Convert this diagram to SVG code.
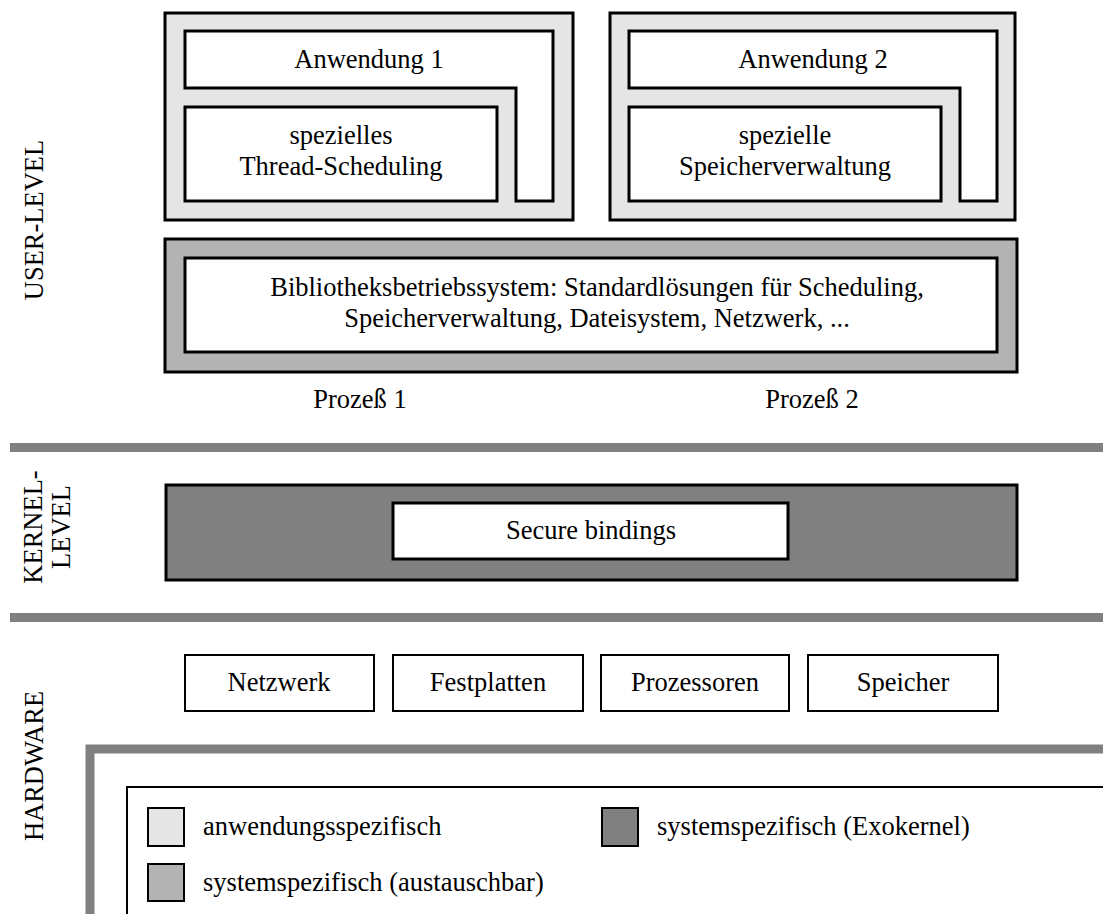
<svg xmlns="http://www.w3.org/2000/svg" width="1103" height="914" viewBox="0 0 1103 914">
  <style>
    text { font-family: "Liberation Serif", "Times New Roman", serif; font-size: 26.5px; fill: #000; }
    .c { text-anchor: middle; }
    .box { stroke: #000; stroke-width: 3; }
    .thin { stroke: #000; stroke-width: 2; }
    .app { fill: #e5e5e5; }
    .lib { fill: #b3b3b3; }
    .exo { fill: #808080; }
    .white { fill: #fff; }
    .bar { fill: #808080; }
  </style>

  <!-- level labels -->
  <g id="labels">
    <text class="c" transform="translate(43,220) rotate(-90)">USER-LEVEL</text>
    <text class="c" transform="translate(42,527) rotate(-90)">KERNEL-</text>
    <text class="c" transform="translate(70,527) rotate(-90)">LEVEL</text>
    <text class="c" transform="translate(43,766) rotate(-90)">HARDWARE</text>
  </g>

  <!-- level separators -->
  <g id="separators">
    <rect class="bar" x="10" y="443" width="1093" height="9"/>
    <rect class="bar" x="10" y="613" width="1093" height="9"/>
  </g>

  <!-- process 1 -->
  <g id="process1">
    <rect class="box app" x="165" y="13" width="408" height="207"/>
    <path class="box white" d="M185,31 H553 V201 H516 V88 H185 Z"/>
    <text class="c" x="369" y="68">Anwendung 1</text>
    <rect class="box white" x="185" y="107" width="312" height="94"/>
    <text class="c" x="341" y="144">spezielles</text>
    <text class="c" x="341" y="175">Thread-Scheduling</text>
  </g>

  <!-- process 2 -->
  <g id="process2">
    <rect class="box app" x="610" y="13" width="405" height="207"/>
    <path class="box white" d="M629,31 H997 V201 H960 V88 H629 Z"/>
    <text class="c" x="813" y="68">Anwendung 2</text>
    <rect class="box white" x="629" y="107" width="312" height="94"/>
    <text class="c" x="785" y="144">spezielle</text>
    <text class="c" x="785" y="175">Speicherverwaltung</text>
  </g>

  <!-- library OS -->
  <g id="libos">
    <rect class="box lib" x="165" y="239" width="852" height="133"/>
    <rect class="box white" x="185" y="258" width="812" height="94"/>
    <text class="c" x="597" y="296">Bibliotheksbetriebssystem: Standardlösungen für Scheduling,</text>
    <text class="c" x="597" y="327">Speicherverwaltung, Dateisystem, Netzwerk, ...</text>
  </g>

  <g id="proc-labels">
    <text class="c" x="360" y="408">Prozeß 1</text>
    <text class="c" x="812" y="408">Prozeß 2</text>
  </g>

  <!-- exokernel -->
  <g id="exokernel">
    <rect class="box exo" x="166" y="485" width="851" height="95"/>
    <rect class="box white" x="393" y="503" width="395" height="56"/>
    <text class="c" x="591" y="539">Secure bindings</text>
  </g>

  <!-- hardware resources -->
  <g id="hw-netzwerk">
    <rect class="thin white" x="185" y="655" width="189" height="56"/>
    <text class="c" x="279" y="691">Netzwerk</text>
  </g>
  <g id="hw-festplatten">
    <rect class="thin white" x="393" y="655" width="190" height="56"/>
    <text class="c" x="488" y="691">Festplatten</text>
  </g>
  <g id="hw-prozessoren">
    <rect class="thin white" x="601" y="655" width="188" height="56"/>
    <text class="c" x="695" y="691">Prozessoren</text>
  </g>
  <g id="hw-speicher">
    <rect class="thin white" x="808" y="655" width="190" height="56"/>
    <text class="c" x="903" y="691">Speicher</text>
  </g>

  <!-- legend frame -->
  <g id="legend-frame">
    <path d="M90,918 V749 H1110" fill="none" stroke="#808080" stroke-width="9"/>
    <path d="M127,918 V787 H1110" fill="none" stroke="#000" stroke-width="2"/>
  </g>

  <!-- legend -->
  <g id="legend">
    <rect class="thin app" x="148" y="808" width="36" height="38"/>
    <text x="203" y="835">anwendungsspezifisch</text>
    <rect class="thin exo" x="602" y="808" width="36" height="38"/>
    <text x="657" y="835">systemspezifisch (Exokernel)</text>
    <rect class="thin lib" x="148" y="864" width="36" height="37"/>
    <text x="203" y="891">systemspezifisch (austauschbar)</text>
  </g>
</svg>
